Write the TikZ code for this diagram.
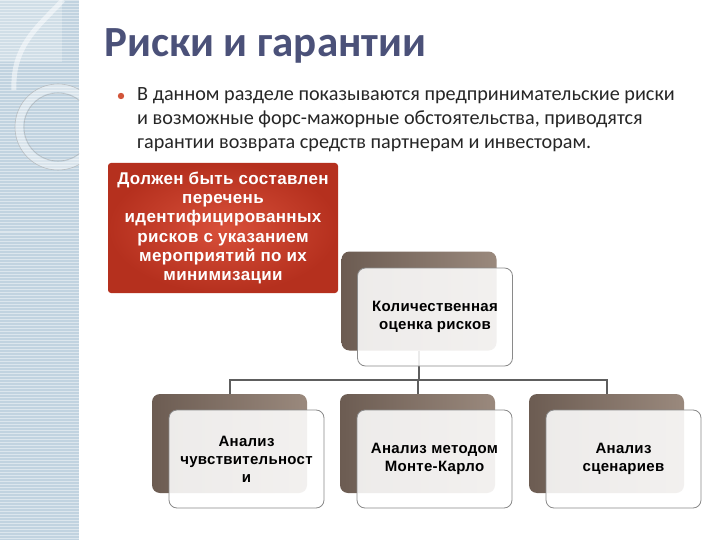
\documentclass[tikz,border=0pt]{standalone}
\usepackage{fontspec}
\setmainfont{Carlito}
\newfontfamily\boxfont{Liberation Sans}[LetterSpace=2]
\usetikzlibrary{calc,backgrounds}

\definecolor{stripblue}{HTML}{C1D3E0}
\definecolor{titleblue}{HTML}{4B5179}
\definecolor{textgray}{HTML}{262626}
\definecolor{bulletred}{HTML}{D2553A}
\definecolor{redlight}{HTML}{D8503A}
\definecolor{reddark}{HTML}{B5301E}
\definecolor{backdark}{HTML}{6C5C52}
\definecolor{backlight}{HTML}{9A897D}
\definecolor{edgegray}{HTML}{8A8A8A}
\definecolor{conngray}{HTML}{5E5E5E}

\begin{document}
\begin{tikzpicture}[x=1pt,y=-1pt,
  backbox/.style={rounded corners=8pt, minimum width=155pt, minimum height=99pt,
    left color=backdark, right color=backlight, inner sep=0pt},
  frontbox/.style={rounded corners=8pt, minimum width=155pt, minimum height=98pt,
    draw=edgegray, line width=0.8pt, fill=white, fill opacity=0.88, text opacity=1,
    align=center, inner sep=2pt, font=\boxfont\bfseries\fontsize{15}{18}\selectfont},
  introline/.style={anchor=base west, inner sep=0pt, text=textgray,
    font=\fontsize{20.2}{25}\selectfont},
  conn/.style={draw=conngray, line width=2pt}]

  \useasboundingbox (0,0) rectangle (720,540);

  % title and intro
  \node[anchor=base west, inner sep=0pt, text=titleblue,
    font=\bfseries\fontsize{43}{45}\selectfont] (title) at (104,57) {Риски и гарантии};
  \fill[bulletred] (121,96) circle (3.2);
  \node[introline] (intro1) at (137,101) {В данном разделе показываются предпринимательские риски};
  \node[introline] (intro2) at (137,125) {и возможные форс-мажорные обстоятельства, приводятся};
  \node[introline] (intro3) at (137,149) {гарантии возврата средств партнерам и инвесторам.};

  \node[rounded corners=3pt, minimum width=230pt, minimum height=130pt,
    inner color=redlight, outer color=reddark, text=white, align=center,
    font=\boxfont\bfseries\fontsize{17}{19.3}\selectfont] (risklist) at (223,228)
    {Должен быть составлен\\перечень\\идентифицированных\\рисков с указанием\\мероприятий по их\\минимизации};

  % hierarchy
  \node[backbox] (bq) at (419,301) {};
  \node[frontbox] (fq) at (435,317) {Количественная\\оценка рисков};

  \node[backbox] (b1) at (229.5,443.5) {};
  \node[backbox] (b2) at (417.5,443.5) {};
  \node[backbox] (b3) at (606.5,443.5) {};
  \node[frontbox] (f1) at (246.5,459) {Анализ\\чувствительност\\и};
  \node[frontbox] (f2) at (434.5,459) {Анализ методом\\Монте-Карло};
  \node[frontbox] (f3) at (623.5,459) {Анализ\\сценариев};

  \coordinate (bus) at (0,380);

  \begin{pgfonlayer}{background}
    \fill[white] (0,0) rectangle (720,540);
    \fill[stripblue] (0,0) rectangle (79,540);
    \foreach \y in {1,4,...,540}
      \draw[white, opacity=0.45, line width=1pt] (0,\y) -- (79,\y);
    \begin{scope}
      \clip (0,0) rectangle (79,540);
      \fill[white, opacity=0.25] (0,0) rectangle (62,62);
      \draw[white, opacity=0.5, line width=5pt] (63,0) .. controls (40,25) and (12,45) .. (14,90);
      \draw[white, opacity=0.4, line width=8pt] (58,127) circle (39);
      \draw[gray!70, opacity=0.6, line width=0.6pt] (58,127) circle (43);
      \draw[gray!70, opacity=0.6, line width=0.6pt] (58,127) circle (34);
    \end{scope}
    \draw[conn] (bq.south) -- (bq.south |- bus);
    \draw[conn] (b1.north) |- (b3.north |- bus) -- (b3.north);
    \draw[conn] (b2.north) -- (b2.north |- bus);
  \end{pgfonlayer}
\end{tikzpicture}
\end{document}
